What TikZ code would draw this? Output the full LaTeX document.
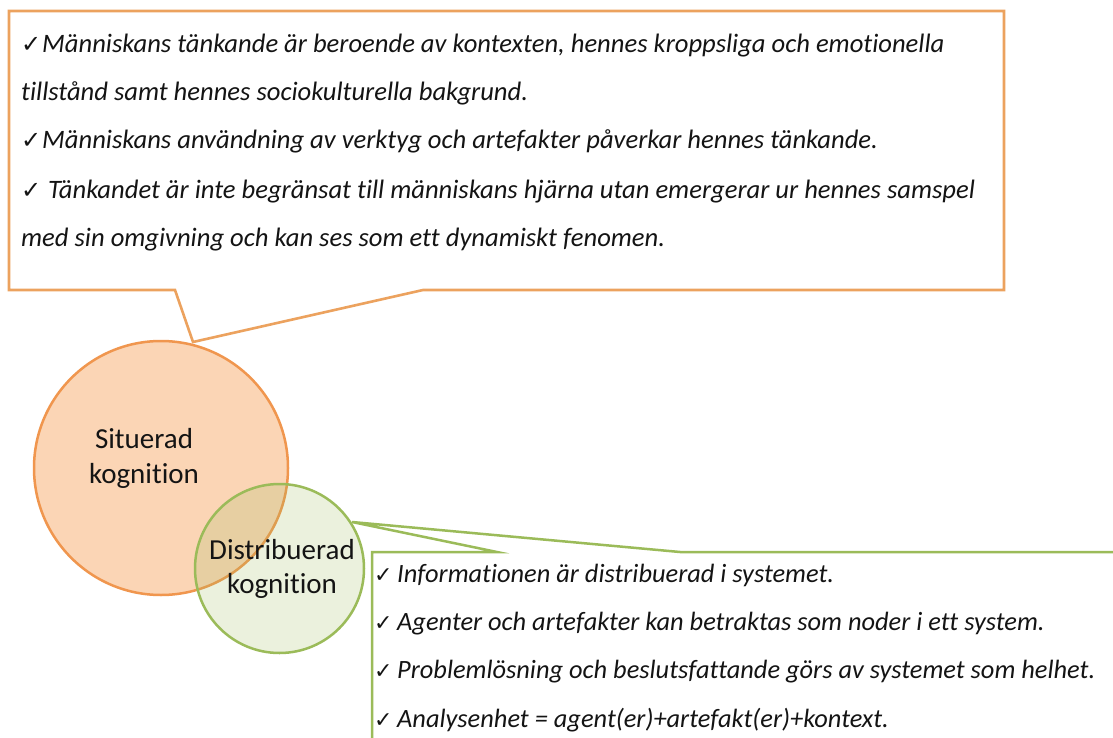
\documentclass[tikz,border=0pt]{standalone}
\usepackage{fontspec}
\setmainfont{Carlito}[Ligatures=NoCommon]
\newfontfamily\chkfont{DejaVu Sans}
\definecolor{orangeC}{RGB}{240,150,78}
\definecolor{orangeB}{RGB}{236,162,94}
\definecolor{peach}{RGB}{251,213,181}
\definecolor{greenC}{RGB}{155,187,89}
\definecolor{txt}{RGB}{20,20,20}
\newcommand\topck{{\chkfont\fontsize{24}{24}\selectfont ✓}}
\newcommand\grnck{{\chkfont\fontsize{22}{22}\selectfont ✓}}
\tikzset{
  tline/.style={anchor=base west, inner sep=0pt, text=txt, font=\fontsize{26.6}{30}\selectfont\itshape},
  gline/.style={anchor=base west, inner sep=0pt, text=txt, font=\fontsize{26.4}{30}\selectfont\itshape},
  clabel/.style={anchor=base, inner sep=0pt, text=txt, font=\fontsize{29}{34}\selectfont},
  orangecall/.style={draw=orangeB, fill=white, line width=2.6pt, line join=miter},
  greencall/.style={draw=greenC, fill=white, line width=2.5pt, line join=miter},
}
\begin{document}
\begin{tikzpicture}[x=1pt,y=-1pt]
\useasboundingbox (0,0) rectangle (1113,738);
\clip (0,0) rectangle (1113,738);
\fill[white] (0,0) rectangle (1113,738);

% circles
\node[circle, draw=orangeC, fill=peach, line width=2.5pt, minimum size=254pt, inner sep=0pt] (sit) at (161,468) {};
\node[circle, draw=greenC, fill=greenC, fill opacity=0.2, line width=2.5pt, minimum size=169pt, inner sep=0pt] (dist) at (279.5,568.5) {};

\node[clabel] (sitA) at (144,448) {Situerad};
\node[clabel] (sitB) at (144,483) {kognition};
\node[clabel] (distA) at (282,559) {Distribuerad};
\node[clabel] (distB) at (282,593) {kognition};

% orange callout
\coordinate (otip) at (193,342);
\draw[orangecall] (9,11) -- (1004,11) -- (1004,290) -- (423,290) -- (otip) -- (175,290) -- (9,290) -- cycle;

% green callout
\coordinate (gtip) at (352,522);
\draw[greencall] (372,760) -- (372,552) -- (497,552) -- (gtip) -- (680,552) -- (1130,552) -- (1130,760) -- cycle;

% top text
\node[tline] (t1) at (21,53) {\makebox[21pt][l]{\topck}Människans tänkande är beroende av kontexten, hennes kroppsliga och emotionella};
\node[tline] (t2) at (21,101) {tillstånd samt hennes sociokulturella bakgrund.};
\node[tline] (t3) at (21,149) {\makebox[21pt][l]{\topck}Människans användning av verktyg och artefakter påverkar hennes tänkande.};
\node[tline] (t4) at (21,198) {\makebox[27pt][l]{\topck}Tänkandet är inte begränsat till människans hjärna utan emergerar ur hennes samspel};
\node[tline] (t5) at (21,246) {med sin omgivning och kan ses som ett dynamiskt fenomen.};

% green text
\node[gline] (g1) at (374,582) {\makebox[23pt][l]{\grnck}Informationen är distribuerad i systemet.};
\node[gline] (g2) at (374,630) {\makebox[23pt][l]{\grnck}Agenter och artefakter kan betraktas som noder i ett system.};
\node[gline] (g3) at (374,678) {\makebox[23pt][l]{\grnck}Problemlösning och beslutsfattande görs av systemet som helhet.};
\node[gline] (g4) at (374,727) {\makebox[23pt][l]{\grnck}Analysenhet = agent(er)+artefakt(er)+kontext.};
\end{tikzpicture}
\end{document}
